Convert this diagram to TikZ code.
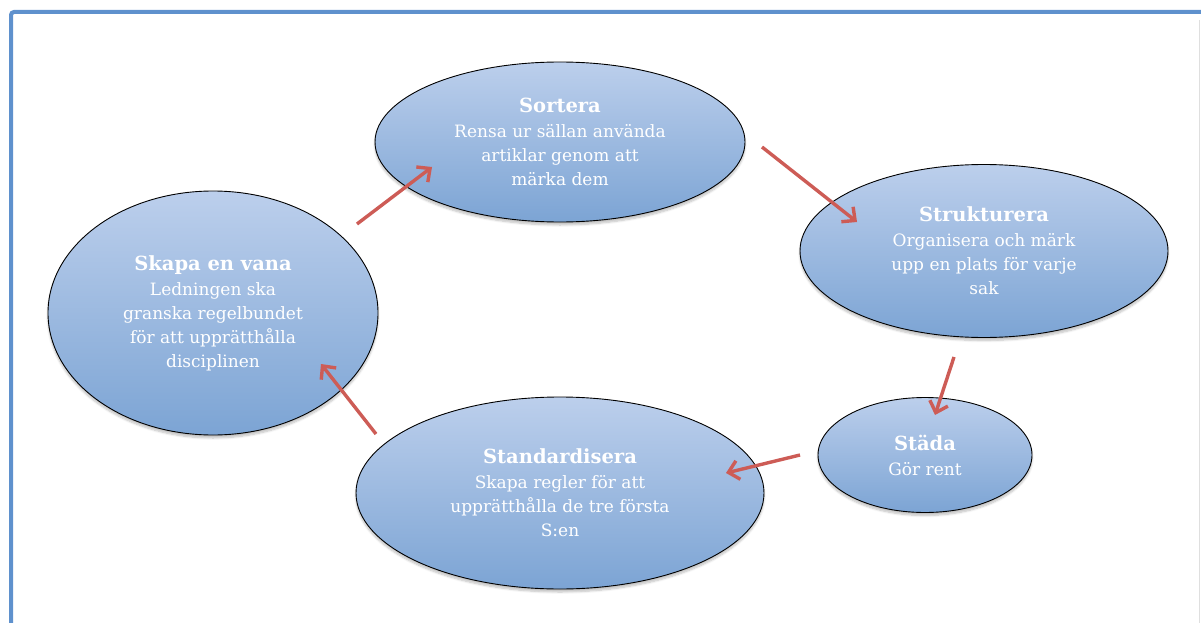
\documentclass[tikz,border=0pt]{standalone}
\usepackage{fontspec}
\setmainfont{DejaVu Serif}
\usetikzlibrary{arrows.meta,shapes.geometric,shadows.blur}
\definecolor{frameblue}{RGB}{95,145,205}
\definecolor{topblue}{RGB}{188,207,236}
\definecolor{botblue}{RGB}{124,164,212}
\definecolor{arrred}{RGB}{205,92,86}
\tikzset{
  bubble/.style={ellipse, draw=black, line width=0.9pt, top color=topblue, bottom color=botblue,
    inner sep=0pt, text=white, align=center, font=\fontsize{17}{24}\selectfont,
    blur shadow={shadow xshift=0pt, shadow yshift=-3pt, shadow blur steps=6, shadow opacity=25}},
  flow/.style={draw=arrred, line width=3.4pt, -{Straight Barb[length=10pt,width=19pt,line width=3.4pt]}}
}
\newcommand{\hd}[1]{{\bfseries\fontsize{19.5}{24}\selectfont #1}\\[1pt]}
\begin{document}
\begin{tikzpicture}[x=1pt,y=-1pt]
\useasboundingbox (0,0) rectangle (1201,623);
\begin{scope}
\clip (0,0) rectangle (1201,623);
\draw[frameblue, line width=4pt, rounded corners=3pt] (11,640) -- (11,12) -- (1220,12);
\draw[gray!25, line width=1.5pt] (1199.5,20) -- (1199.5,640);
\end{scope}

\node[bubble, minimum width=370pt, minimum height=160pt] (sort) at (560,142)
  {\hd{Sortera}Rensa ur sällan använda\\artiklar genom att\\märka dem};
\node[bubble, minimum width=368pt, minimum height=173pt] (strk) at (984,251)
  {\hd{Strukturera}Organisera och märk\\upp en plats för varje\\sak};
\node[bubble, minimum width=214pt, minimum height=115pt] (stad) at (925,455)
  {\hd{Städa}Gör rent};
\node[bubble, minimum width=408pt, minimum height=192pt] (std) at (560,493)
  {\hd{Standardisera}Skapa regler för att\\upprätthålla de tre första\\S:en};
\node[bubble, minimum width=330pt, minimum height=244pt] (skap) at (213,313)
  {\hd{Skapa en vana}Ledningen ska\\granska regelbundet\\för att upprätthålla\\disciplinen};

\coordinate (a1s) at (357,224); \coordinate (a1e) at (432,167);
\coordinate (a2s) at (762,147); \coordinate (a2e) at (857,222);
\coordinate (a3s) at (954,357); \coordinate (a3e) at (935,415);
\coordinate (a4s) at (800,455); \coordinate (a4e) at (726,473);
\coordinate (a5s) at (376,434); \coordinate (a5e) at (321,364);
\draw[flow] (a1s) -- (a1e);
\draw[flow] (a2s) -- (a2e);
\draw[flow] (a3s) -- (a3e);
\draw[flow] (a4s) -- (a4e);
\draw[flow] (a5s) -- (a5e);
\end{tikzpicture}
\end{document}
